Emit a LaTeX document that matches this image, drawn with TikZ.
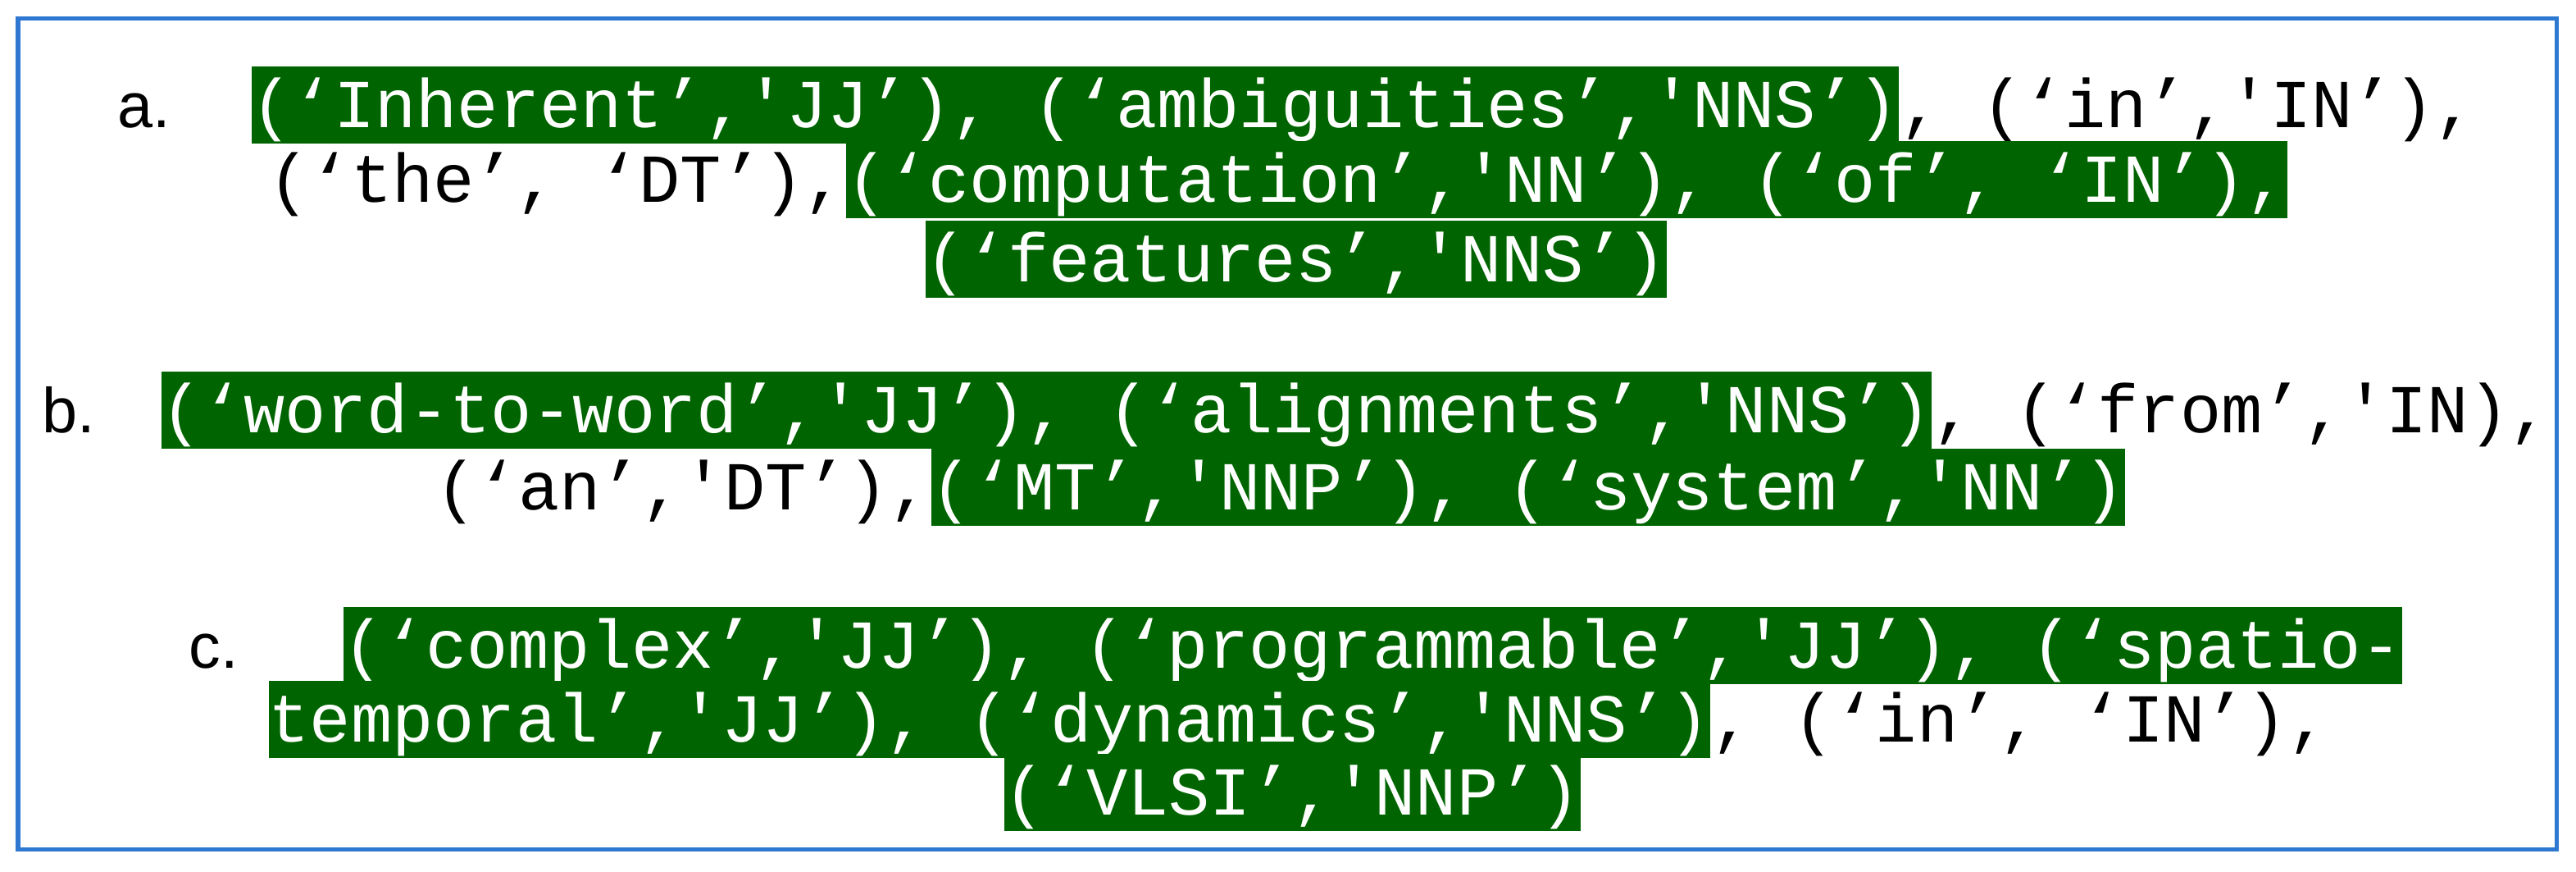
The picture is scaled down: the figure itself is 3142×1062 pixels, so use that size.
\documentclass[tikz,border=0pt]{standalone}
\usepackage{fontspec}
\setmainfont{Liberation Sans}
\newfontfamily\monofnt{Liberation Mono}
\definecolor{hlgreen}{RGB}{0,100,0}
\definecolor{frameblue}{RGB}{46,120,210}
\begin{document}
\begin{tikzpicture}[x=0.01cm,y=-0.01cm,
  tx/.style={anchor=base west,inner xsep=0pt,inner ysep=0pt,text height=0.74cm,text depth=0.2cm,
    font=\monofnt\fontsize{23.8}{28}\selectfont},
  hl/.style={tx,fill=hlgreen,text=white},
  pl/.style={tx,text=black},
  lab/.style={anchor=base west,inner sep=0pt,font=\fontsize{22}{26}\selectfont}]
\useasboundingbox (0,0) rectangle (3142,1062);
\fill[white] (0,0) rectangle (3142,1062);
\draw[frameblue,line width=0.05cm] (22,22) rectangle (3118,1035);
% a
\node[lab] (la) at (143,155) {a.};
\node[hl] (a1) at (306,155) {(‘Inherent’,'JJ’), (‘ambiguities’,'NNS’)};
\node[pl] (a1b) at (a1.base east) {, (‘in’,'IN’),};
\node[pl] (a2) at (327,246) {(‘the’, ‘DT’), };
\node[hl] (a2b) at (a2.base east) {(‘computation’,'NN’), (‘of’, ‘IN’),};
\node[hl] (a3) at (1128,343) {(‘features’,'NNS’)};
% b
\node[lab] (lb) at (51,527) {b.};
\node[hl] (b1) at (196,527) {(‘word-to-word’,'JJ’), (‘alignments’,'NNS’)};
\node[pl] (b1b) at (b1.base east) {, (‘from’,'IN),};
\node[pl] (b2) at (531,621) {(‘an’,'DT’), };
\node[hl] (b2b) at (b2.base east) {(‘MT’,'NNP’), (‘system’,'NN’)};
% c
\node[lab] (lc) at (230,814) {c.};
\node[hl] (c1) at (418,814) {(‘complex’,'JJ’), (‘programmable’,'JJ’), (‘spatio-};
\node[hl] (c2) at (327,904) {temporal’,'JJ’), (‘dynamics’,'NNS’)};
\node[pl] (c2b) at (c2.base east) {, (‘in’, ‘IN’),};
\node[hl] (c3) at (1224,993) {(‘VLSI’,'NNP’)};
\end{tikzpicture}
\end{document}
